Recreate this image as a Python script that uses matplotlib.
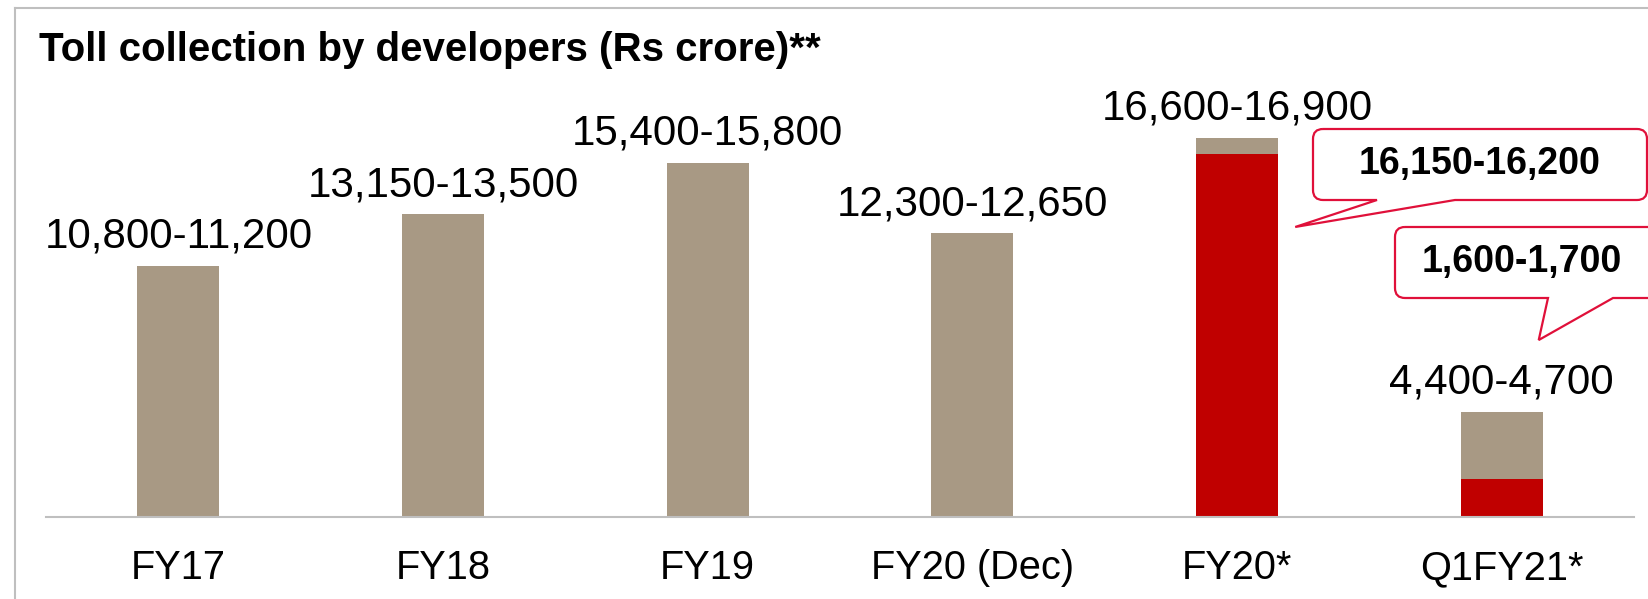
import matplotlib
matplotlib.use('Agg')
import matplotlib.pyplot as plt
from matplotlib.path import Path
from matplotlib.patches import PathPatch
from matplotlib.lines import Line2D
from matplotlib.transforms import IdentityTransform

plt.rcParams['font.family'] = ['Liberation Sans', 'DejaVu Sans']

# data
categories = ['FY17', 'FY18', 'FY19', 'FY20 (Dec)', 'FY20*', 'Q1FY21*']
totals = [11200, 13500, 15800, 12650, 16900, 4700]
red_part = [0, 0, 0, 0, 16200, 1700]
labels = ['10,800-11,200', '13,150-13,500', '15,400-15,800', '12,300-12,650',
          '16,600-16,900', '4,400-4,700']
callout_text = ['16,150-16,200', '1,600-1,700']
callout_target = [(4.22, 12930), (5.14, 7890)]

TAN = '#A89984'
RED = '#C00000'
CRIMSON = '#E0103A'
GRAY = '#BFBFBF'

W, H = 1648, 599
fig = plt.figure(figsize=(W / 100, H / 100), dpi=100)
ax = fig.add_axes([46 / W, 82 / H, 1588 / W, 448.6 / H])

x = list(range(len(categories)))
tan_part = [t - r for t, r in zip(totals, red_part)]
ax.bar(x, red_part, width=0.31, color=RED, zorder=2)
ax.bar(x, tan_part, bottom=red_part, width=0.31, color=TAN, zorder=2)

for i, (t, lab) in enumerate(zip(totals, labels)):
    ax.annotate(lab, (i, t), xytext=(0, 13), textcoords='offset points',
                ha='center', va='baseline', fontsize=30.3)

ax.set_xlim(-0.5, 5.5)
ax.set_ylim(0, 20000)
ax.set_xticks(x)
ax.set_xticklabels(categories, fontsize=28.6)
ax.tick_params(axis='x', length=0, pad=23)
ax.set_yticks([])
for s in ['left', 'right', 'top']:
    ax.spines[s].set_visible(False)
ax.spines['bottom'].set_color(GRAY)
ax.spines['bottom'].set_linewidth(1.5)

# title and outer frame
fig.text(39 / W, 1 - 61 / H, 'Toll collection by developers (Rs crore)**',
         fontsize=29, fontweight='bold', va='baseline', ha='left')
fig.add_artist(Line2D([15 / W, 15 / W], [0, 1 - 8 / H], color=GRAY, lw=1.5,
                      transform=fig.transFigure))
fig.add_artist(Line2D([15 / W, 1], [1 - 8 / H, 1 - 8 / H], color=GRAY, lw=1.5,
                      transform=fig.transFigure))


def bubble(x0, x1, ytop, ybot, b0, b1, tip, r=10):
    # speech bubble in pixel coords (y from top), pointer on bottom edge
    y0, y1 = H - ytop, H - ybot
    tx, ty = tip
    verts = [
        (x0 + r, y0), (x1 - r, y0), (x1, y0), (x1, y0 - r),
        (x1, y1 + r), (x1, y1), (x1 - r, y1),
        (b1, y1), (tx, ty), (b0, y1),
        (x0 + r, y1), (x0, y1), (x0, y1 + r),
        (x0, y0 - r), (x0, y0), (x0 + r, y0),
    ]
    codes = [Path.MOVETO, Path.LINETO, Path.CURVE3, Path.CURVE3,
             Path.LINETO, Path.CURVE3, Path.CURVE3,
             Path.LINETO, Path.LINETO, Path.LINETO,
             Path.LINETO, Path.CURVE3, Path.CURVE3,
             Path.LINETO, Path.CURVE3, Path.CURVE3]
    return Path(verts, codes)


boxes = [(1313, 1647, 129, 200, 1377, 1455), (1395, 1670, 227, 298, 1548, 1613)]
for (x0, x1, yt, yb, b0, b1), txt, tgt in zip(boxes, callout_text, callout_target):
    tip = ax.transData.transform(tgt)
    p = bubble(x0, x1, yt, yb, b0, b1, tip)
    fig.add_artist(PathPatch(p, facecolor='white', edgecolor=CRIMSON, lw=1.6,
                             transform=IdentityTransform(), zorder=5))
    fig.text((x0 + min(x1, W)) / 2 / W, 1 - (yt + yb) / 2 / H, txt,
             fontsize=27, fontweight='bold', ha='center', va='center', zorder=6)

fig.savefig('out.png', dpi=100)
